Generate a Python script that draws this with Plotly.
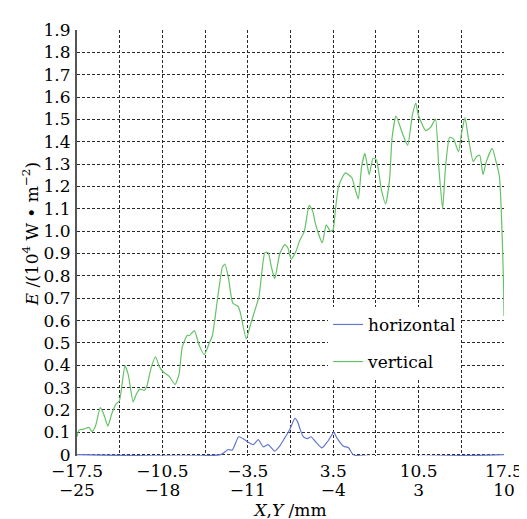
import plotly.graph_objects as go

# ---- data ----
vert_x = [-17.5, -17.34, -16.94, -16.53, -16.26, -15.99, -15.59, -15.32, -14.97, -14.65,
          -14.3, -14.03, -13.84, -13.57, -13.3, -12.9, -12.64, -12.36, -11.96, -11.77,
          -11.43, -11.07, -10.75, -10.43, -9.94, -9.46, -9.14, -8.87, -8.47, -8.28,
          -7.88, -7.48, -7.07, -6.67, -6.4, -5.99, -5.59, -5.38, -5.1, -4.73,
          -4.3, -4.11, -3.63, -3.31, -2.9, -2.58, -2.1, -1.83, -1.56, -1.29,
          -0.89, -0.48, -0.22, 0.06, 0.46, 0.73, 1.13, 1.53, 1.80, 2.07,
          2.6, 2.93, 3.28, 3.49, 3.69, 3.95, 4.49, 5.03, 5.3, 5.56,
          5.83, 6.1, 6.45, 6.77, 7.04, 7.44, 7.80, 8.12, 8.33, 8.65,
          9.19, 9.6, 10.0, 10.27, 10.46, 10.67, 11.07, 11.48, 11.88, 12.15,
          12.47, 12.69, 13.04, 13.36, 13.77, 14.03, 14.3, 14.57, 14.98, 15.24,
          15.51, 15.78, 16.05, 16.53, 16.85, 17.12, 17.26, 17.39, 17.47, 17.5]
vert_y = [0.08, 0.11, 0.114, 0.122, 0.103, 0.127, 0.21, 0.183, 0.128, 0.183,
          0.227, 0.24, 0.30, 0.397, 0.358, 0.236, 0.27, 0.293, 0.288, 0.307,
          0.387, 0.438, 0.394, 0.37, 0.35, 0.314, 0.358, 0.482, 0.533, 0.533,
          0.555, 0.489, 0.448, 0.497, 0.533, 0.693, 0.838, 0.853, 0.795, 0.678,
          0.664, 0.635, 0.518, 0.576, 0.649, 0.707, 0.904, 0.904, 0.838, 0.787,
          0.897, 0.94, 0.926, 0.875, 0.911, 0.955, 0.999, 1.115, 1.093, 1.028,
          0.948, 1.028, 0.999, 1.006, 1.10, 1.202, 1.261, 1.239, 1.188, 1.144,
          1.29, 1.348, 1.253, 1.326, 1.319, 1.188, 1.122, 1.231, 1.42, 1.515,
          1.435, 1.384, 1.523, 1.573, 1.523, 1.493, 1.45, 1.464, 1.501, 1.29,
          1.10, 1.275, 1.42, 1.413, 1.355, 1.442, 1.508, 1.42, 1.311, 1.333,
          1.34, 1.253, 1.311, 1.37, 1.311, 1.246, 1.115, 0.911, 0.737, 0.62]

horiz_x = [-17.5, -5.73, -5.1, -4.78, -4.25, -3.85, -3.44, -3.04, -2.64, -2.23,
           -1.83, -1.29, -0.89, -0.48, -0.08, 0.36, 0.56, 0.81, 1.05, 1.37,
           1.69, 2.02, 2.58, 3.06, 3.55, 3.81, 4.35, 4.76, 5.16, 17.5]
horiz_y = [0.0, 0.0, 0.023, 0.02, 0.08, 0.07, 0.055, 0.045, 0.067, 0.035,
           0.045, 0.016, 0.038, 0.074, 0.11, 0.162, 0.15, 0.11, 0.08, 0.072,
           0.08, 0.06, 0.03, 0.06, 0.10, 0.074, 0.038, 0.031, 0.0, 0.0]

x_tickvals = [-17.5, -14, -10.5, -7, -3.5, 0, 3.5, 7, 10.5, 14, 17.5]
x_ticktext_top = ["−17.5", "", "−10.5", "", "−3.5", "", "3.5", "", "10.5", "", "17.5"]
x_ticktext_bottom = ["−25", "", "−18", "", "−11", "", "−4", "", "3", "", "10"]
y_tickvals = [round(0.1 * i, 1) for i in range(20)]
y_ticktext = ["0"] + ["%.1f" % v for v in y_tickvals[1:]]

FONT = "DejaVu Serif"
BLUE = "#6478d2"
GREEN = "#66c266"
TICKFONT = dict(family=FONT, size=17, color="black")

fig = go.Figure()
fig.add_trace(go.Scatter(x=horiz_x, y=horiz_y, mode="lines", name="horizontal",
                         legendgroup="h",
                         line=dict(color=BLUE, width=1.2, shape="spline", smoothing=0.5)))
fig.add_trace(go.Scatter(x=vert_x, y=vert_y, mode="lines", name="vertical",
                         legendgroup="v",
                         line=dict(color=GREEN, width=1.2, shape="spline", smoothing=0.5)))

grid = dict(showgrid=True, gridcolor="#2a2a2a", gridwidth=1, griddash="3px,2px",
            zeroline=False, ticks="")

fig.update_layout(
    width=527, height=519,
    margin=dict(l=69, r=24, t=17, b=66),
    paper_bgcolor="white", plot_bgcolor="white",
    font=dict(family=FONT, color="black"),
    xaxis=dict(range=[-17.5, 17.5], tickmode="array", tickvals=x_tickvals,
               ticktext=x_ticktext_top, showline=False, tickfont=TICKFONT,
               ticklabelstandoff=3, **grid),
    xaxis2=dict(range=[-17.5, 17.5], matches="x", overlaying="x", anchor="y",
                side="bottom", tickmode="array", tickvals=x_tickvals,
                ticktext=x_ticktext_bottom, showgrid=False, zeroline=False,
                showline=False, ticks="", tickfont=TICKFONT, ticklabelstandoff=22,
                title=dict(text="<i>X</i>,<i>Y</i> /mm",
                           font=dict(family=FONT, size=17), standoff=3)),
    yaxis=dict(range=[-0.006, 1.9], tickmode="array", tickvals=y_tickvals,
               ticktext=y_ticktext, showline=True, linecolor="#555", linewidth=2,
               tickfont=TICKFONT, ticklabelstandoff=1, **grid),
    annotations=[dict(text="<i>E</i> /(10<sup>4</sup> W • m<sup>−2</sup>)",
                      textangle=-90, xref="paper", yref="paper",
                      x=-0.108, y=0.52, xanchor="center", yanchor="middle",
                      showarrow=False, font=dict(family=FONT, size=17, color="black"))],
    showlegend=True,
    legend=dict(x=0.588, y=0.35, xanchor="left", yanchor="top",
                bgcolor="white", borderwidth=0, traceorder="grouped",
                tracegroupgap=12, itemwidth=30,
                font=dict(family=FONT, size=17, color="black")),
)
# an invisible trace keeps the secondary (second label row) axis active
fig.add_trace(go.Scatter(x=[-17.5, 17.5], y=[None, None], xaxis="x2", yaxis="y",
                         mode="lines", showlegend=False, hoverinfo="skip"))

fig.write_html("out.html")
